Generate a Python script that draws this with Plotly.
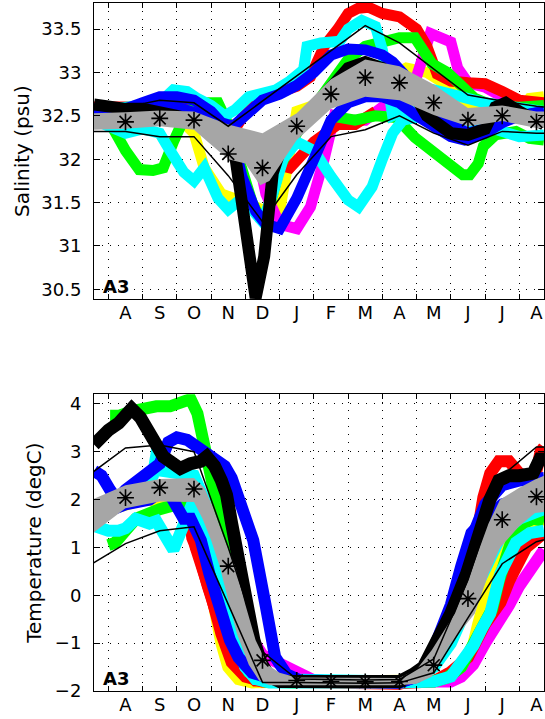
import plotly.graph_objects as go

# ---------------- common ----------------
month_labels = ['A', 'S', 'O', 'N', 'D', 'J', 'F', 'M', 'A', 'M', 'J', 'J', 'A']
month_mid = [k + 0.5 for k in range(13)]
month_start = list(range(13))
env_x = [-0.5] + month_mid + [13.5]          # Jul ... Sep (envelope lines)

# ---------------- Salinity panel ----------------
sal_mean = [32.43, 32.47, 32.45, 32.06, 31.90, 32.38, 32.75, 32.94, 32.88, 32.65, 32.45, 32.50, 32.43]
sal_upper = [32.57, 32.60, 32.68, 32.65, 32.38, 32.67, 32.96, 33.25, 33.54, 33.34, 33.04, 32.74, 32.67, 32.61, 32.57]
sal_lower = [32.32, 32.32, 32.26, 32.26, 31.81, 31.28, 31.82, 32.26, 32.34, 32.50, 32.30, 32.16, 32.32, 32.30, 32.30]

sal_band_hi_x = [-0.42, 0.5, 1.5, 2.5, 3.5, 4.5, 5.5, 6.5, 7.5, 8.5, 9.5, 10.5, 11.5, 12.5, 12.72]
sal_band_hi_y = [32.53, 32.54, 32.56, 32.55, 32.40, 32.30, 32.53, 32.92, 33.15, 33.07, 32.86, 32.59, 32.62, 32.55, 32.55]
sal_band_lo_x = [-0.42, 0.5, 1.5, 2.5, 2.9, 3.5, 4.0, 4.43, 4.7, 5.5, 6.5, 7.5, 8.5, 9.5, 10.5, 11.5, 12.5, 12.72]
sal_band_lo_y = [32.34, 32.35, 32.38, 32.34, 32.20, 32.00, 31.95, 31.70, 31.75, 32.22, 32.58, 32.72, 32.68, 32.51, 32.38, 32.44, 32.36, 32.36]

sal_yellow_x = [-0.42, 1.0, 2.0, 2.5, 2.8, 3.3, 4.0, 4.6, 5.0, 5.25, 5.5, 6.0, 6.5, 7.5, 8.2, 8.7, 9.3, 9.9, 10.3, 10.6, 11.0, 12.0, 12.3, 12.72]
sal_yellow_y = [32.55, 32.55, 32.50, 32.30, 31.90, 31.60, 31.50, 31.40, 31.40, 31.90, 32.55, 32.62, 32.75, 32.90, 32.95, 33.05, 33.00, 32.85, 32.65, 32.60, 32.55, 32.55, 32.70, 32.72]
sal_magenta_x = [-0.42, 1.0, 2.0, 2.7, 3.2, 3.7, 4.3, 4.6, 5.0, 5.5, 5.9, 6.3, 6.6, 7.0, 7.5, 8.0, 8.6, 9.0, 9.4, 10.0, 10.2, 10.5, 11.0, 11.5, 12.0, 12.72]
sal_magenta_y = [32.50, 32.55, 32.50, 32.45, 32.40, 32.28, 32.15, 31.60, 31.25, 31.20, 31.45, 32.00, 32.50, 32.45, 32.45, 32.60, 32.75, 32.95, 33.45, 33.35, 33.05, 32.88, 32.83, 32.72, 32.65, 32.60]
sal_red1_x = [-0.42, 0.5, 1.0, 1.7, 2.0, 2.5, 3.0, 3.5, 3.75, 4.1, 4.5, 4.9, 5.5, 5.9, 6.3, 6.7, 7.0, 7.3, 7.6, 8.0, 8.5, 9.0, 9.3, 9.6, 10.0, 10.5, 11.0, 11.5, 12.0, 12.72]
sal_red1_y = [32.60, 32.60, 32.60, 32.68, 32.65, 32.55, 32.45, 32.40, 32.38, 32.60, 32.72, 32.76, 32.84, 32.95, 33.30, 33.50, 33.68, 33.74, 33.75, 33.68, 33.64, 33.50, 33.30, 32.98, 32.90, 32.88, 32.87, 32.78, 32.68, 32.65]
sal_red2_x = [2.8, 3.2, 3.7, 4.4, 4.8, 5.3, 6.0, 6.7, 7.2, 7.8]
sal_red2_y = [32.50, 32.35, 32.22, 32.15, 31.95, 31.90, 32.20, 32.40, 32.40, 32.55]
sal_green1_x = [-0.42, 0.0, 0.5, 0.9, 1.3, 1.6, 1.9, 2.3, 2.7, 3.2, 3.5, 3.9, 4.2, 4.45, 4.7, 5.0, 5.5, 6.0, 6.5, 7.0, 7.5, 8.0, 8.5, 8.95, 9.45, 9.9, 10.3, 10.7, 11.2, 12.0, 12.72]
sal_green1_y = [32.55, 32.45, 32.10, 31.88, 31.87, 31.90, 32.20, 32.55, 32.65, 32.65, 32.40, 31.85, 31.50, 31.30, 31.45, 31.90, 32.30, 32.60, 32.90, 33.15, 33.30, 33.35, 33.40, 33.40, 33.10, 33.00, 32.84, 32.70, 32.62, 32.60, 32.62]
sal_green2_x = [6.5, 7.2, 7.8, 8.4, 8.95, 9.4, 9.75, 10.1, 10.35, 10.55, 10.8, 10.95, 11.3, 11.9, 12.3, 12.72]
sal_green2_y = [32.50, 32.45, 32.50, 32.48, 32.25, 32.10, 32.00, 31.88, 31.82, 31.82, 31.95, 32.15, 32.28, 32.32, 32.24, 32.22]
sal_cyan1_x = [-0.42, 0.5, 1.0, 1.5, 1.9, 2.3, 2.6, 3.0, 3.4, 3.7, 4.1, 4.9, 5.3, 5.7, 5.8, 6.2, 6.76, 7.0, 7.4, 7.8, 8.0, 8.15, 8.3, 8.6, 9.0, 9.5, 10.0, 10.4, 11.0, 11.5, 12.0, 12.72]
sal_cyan1_y = [32.55, 32.60, 32.60, 32.65, 32.80, 32.78, 32.70, 32.62, 32.50, 32.57, 32.72, 32.80, 32.90, 33.03, 33.30, 33.34, 33.36, 33.50, 33.60, 33.53, 33.26, 32.80, 32.50, 32.55, 32.70, 32.80, 32.75, 32.68, 32.65, 32.62, 32.58, 32.55]
sal_cyan2_x = [-0.42, 0.5, 1.0, 1.5, 1.8, 2.2, 2.5, 2.8, 3.2, 3.5, 3.9, 4.2, 4.5, 4.8, 5.1, 5.5, 6.0, 6.5, 7.0, 7.3, 7.7, 8.0, 8.3, 8.6, 9.2, 10.0, 10.8, 11.5, 12.0, 12.72]
sal_cyan2_y = [32.45, 32.30, 32.35, 32.30, 32.10, 31.85, 31.75, 31.90, 31.55, 31.42, 31.55, 31.40, 31.28, 31.60, 32.00, 32.20, 32.10, 31.80, 31.53, 31.45, 31.68, 32.00, 32.30, 32.45, 32.50, 32.50, 32.40, 32.30, 32.26, 32.28]
sal_blue1_x = [-0.42, 0.5, 1.0, 1.5, 2.0, 2.5, 3.0, 3.3, 3.65, 4.1, 4.5, 5.0, 5.5, 6.0, 6.5, 7.0, 7.5, 8.0, 8.3, 8.7, 9.0, 9.5, 10.0, 10.5, 11.0, 11.5, 12.0, 12.72]
sal_blue1_y = [32.58, 32.58, 32.65, 32.72, 32.72, 32.68, 32.55, 32.42, 32.38, 32.55, 32.68, 32.75, 32.85, 33.00, 33.20, 33.27, 33.26, 33.20, 33.12, 32.95, 32.75, 32.55, 32.40, 32.30, 32.35, 32.45, 32.50, 32.55]
sal_blue2_x = [-0.42, 1.0, 2.0, 2.8, 3.3, 3.6, 3.9, 4.3, 4.6, 5.0, 5.5, 6.0, 6.5, 7.0, 7.5, 8.0, 8.5, 9.0, 9.5, 10.0, 10.4, 11.0, 11.5, 12.0, 12.72]
sal_blue2_y = [32.55, 32.60, 32.60, 32.50, 32.40, 32.30, 31.80, 31.40, 31.25, 31.20, 31.55, 31.99, 32.45, 32.65, 32.72, 32.72, 32.65, 32.50, 32.38, 32.26, 32.22, 32.30, 32.42, 32.50, 32.55]
sal_black_x = [-0.42, 0.0, 0.5, 1.0, 1.5, 2.0, 2.5, 3.0, 3.4, 3.72, 4.0, 4.3, 4.55, 4.8, 5.1, 5.5, 6.0, 6.5, 7.0, 7.5, 8.0, 8.5, 9.0, 9.3, 9.7, 10.0, 10.5, 11.0, 11.3, 11.6, 12.0, 12.5, 12.72]
sal_black_y = [32.63, 32.60, 32.58, 32.58, 32.55, 32.50, 32.45, 32.35, 32.25, 31.99, 31.20, 30.40, 30.88, 31.84, 32.20, 32.35, 32.60, 32.85, 33.05, 33.12, 33.05, 32.90, 32.70, 32.50, 32.40, 32.30, 32.28, 32.35, 32.60, 32.65, 32.55, 32.45, 32.40]

# ---------------- Temperature panel ----------------
tmp_mean = [2.04, 2.25, 2.22, 0.61, -1.36, -1.78, -1.80, -1.81, -1.80, -1.46, -0.07, 1.58, 2.06]
tmp_upper = [2.55, 3.08, 3.14, 3.00, 1.00, -1.18, -1.75, -1.76, -1.77, -1.76, -1.33, 0.32, 2.50, 3.10, 3.10]
tmp_lower = [0.65, 1.08, 1.35, 1.43, -0.19, -1.82, -1.82, -1.83, -1.84, -1.83, -1.62, -0.47, 0.66, 1.12, 1.30]

tmp_band_hi_x = [-0.42, 0.5, 1.5, 2.5, 2.8, 3.05, 3.4, 3.7, 4.0, 4.3, 4.65, 5.0, 5.5, 8.5, 9.0, 9.44, 10.12, 10.5, 10.85, 11.1, 11.44, 12.0, 12.46, 12.72]
tmp_band_hi_y = [2.02, 2.30, 2.43, 2.45, 2.25, 1.85, 1.15, 0.60, -0.20, -0.94, -1.45, -1.62, -1.72, -1.73, -1.55, -1.15, -0.38, 0.30, 1.01, 1.50, 2.00, 2.25, 2.42, 2.50]
tmp_band_lo_x = [-0.42, 0.5, 1.5, 2.5, 2.75, 3.0, 3.25, 3.5, 3.75, 4.1, 4.4, 4.7, 5.5, 8.5, 9.0, 9.44, 10.0, 10.7, 11.1, 11.44, 12.0, 12.46, 12.72]
tmp_band_lo_y = [1.32, 1.82, 1.96, 1.95, 1.60, 1.15, 0.60, -0.10, -0.80, -1.45, -1.78, -1.88, -1.88, -1.88, -1.85, -1.70, -1.00, -0.38, 0.45, 1.00, 1.45, 1.72, 1.74]

tmp_yellow_x = [-0.42, 1.0, 2.0, 2.5, 2.7, 2.9, 3.07, 3.3, 3.5, 3.8, 4.2, 8.5, 9.5, 10.2, 10.6, 10.8, 11.0, 11.3, 11.6, 12.0, 12.72]
tmp_yellow_y = [1.70, 2.00, 1.95, 1.80, 1.20, 0.40, -0.24, -1.00, -1.50, -1.75, -1.82, -1.82, -1.78, -1.70, -1.20, -0.60, -0.10, 0.66, 1.10, 1.40, 1.60]
tmp_magenta_x = [-0.42, 1.0, 2.0, 2.6, 3.0, 3.5, 4.0, 4.5, 5.0, 5.4, 5.7, 6.0, 7.0, 8.5, 9.5, 10.0, 10.3, 10.65, 11.0, 11.4, 11.7, 12.0, 12.4, 12.72]
tmp_magenta_y = [1.70, 2.10, 2.20, 2.00, 1.30, 0.30, -0.70, -1.25, -1.45, -1.55, -1.72, -1.78, -1.80, -1.82, -1.82, -1.80, -1.70, -1.45, -1.00, -0.60, -0.20, 0.20, 0.60, 0.95]
tmp_redA_x = [-0.42, 0.5, 1.5, 2.0, 2.2, 2.4, 2.55, 2.7, 3.0, 3.3, 3.6, 4.0, 4.5, 8.5, 9.0, 9.5, 9.9, 10.3, 10.56, 10.75, 10.95, 11.15, 11.4, 11.7, 12.0, 12.3, 12.5, 12.62, 12.72]
tmp_redA_y = [1.68, 2.05, 2.20, 2.15, 1.85, 1.75, 1.00, 0.70, 0.00, -0.80, -1.40, -1.70, -1.80, -1.85, -1.75, -1.30, -0.80, -0.30, 0.35, 1.35, 2.05, 2.55, 2.80, 2.80, 2.55, 2.45, 2.60, 3.00, 3.10]
tmp_redB_x = [-0.42, 0.5, 1.5, 2.3, 2.45, 2.65, 2.9, 3.3, 3.8, 4.3, 8.5, 9.5, 10.0, 10.5, 11.0, 11.45, 11.7, 11.95, 12.2, 12.72]
tmp_redB_y = [1.60, 2.00, 2.15, 2.10, 1.20, 0.85, 0.20, -0.70, -1.40, -1.78, -1.84, -1.80, -1.60, -1.30, -0.60, -0.15, 0.30, 0.70, 1.00, 1.30]
tmp_green1_x = [0.05, 0.3, 0.7, 1.0, 1.4, 1.8, 2.1, 2.4, 2.6, 2.8, 3.0, 3.2, 3.5, 3.8, 4.1, 4.4, 4.8, 5.5, 8.5, 9.5, 9.9, 10.3, 10.6, 10.9, 11.2, 11.4, 11.6, 11.8, 12.1, 12.4, 12.72]
tmp_green1_y = [3.75, 3.75, 3.85, 3.90, 3.95, 3.95, 4.00, 4.10, 3.80, 3.20, 2.50, 1.80, 0.70, -0.40, -1.35, -1.70, -1.78, -1.80, -1.82, -1.80, -1.72, -1.50, -1.10, -0.70, -0.30, 0.30, 0.80, 1.20, 1.50, 1.60, 1.55]
tmp_green2_x = [0.0, 0.2, 0.5, 0.8, 1.5, 2.0, 2.5, 2.9, 3.3, 3.7, 4.1, 4.6, 5.5]
tmp_green2_y = [1.05, 1.10, 1.35, 1.60, 1.80, 1.90, 1.75, 1.00, 0.00, -1.00, -1.60, -1.80, -1.82]
tmp_cyanA_x = [-0.42, 0.0, 0.3, 0.5, 0.8, 1.2, 1.4, 1.7, 1.9, 2.1, 2.3, 2.5, 2.7, 3.0, 3.2, 3.5, 3.75, 4.0, 4.3, 4.7, 8.5, 9.5, 10.0, 10.4, 10.66, 10.9, 11.15, 11.44, 11.9, 12.3, 12.72]
tmp_cyanA_y = [1.45, 1.35, 1.35, 1.40, 1.60, 1.50, 1.55, 1.20, 0.95, 1.30, 1.70, 2.00, 1.70, 1.00, 0.45, -0.40, -1.00, -1.50, -1.75, -1.82, -1.82, -1.80, -1.70, -1.35, -1.05, -0.70, -0.38, 0.45, 1.10, 1.30, 1.35]
tmp_cyanB_x = [-0.42, 0.5, 1.0, 1.3, 1.45, 1.6, 2.0, 2.5, 2.8, 3.1, 3.4, 3.7, 4.0, 4.3, 8.5, 9.0, 9.5, 10.0, 10.5, 11.0, 11.5, 12.0, 12.72]
tmp_cyanB_y = [1.70, 2.00, 2.20, 2.50, 3.15, 2.60, 2.55, 2.50, 2.00, 1.00, 0.00, -0.90, -1.50, -1.75, -1.80, -1.75, -1.50, -1.00, -0.20, 0.60, 1.30, 1.60, 1.80]
tmp_blueA_x = [-0.42, -0.2, 0.05, 0.25, 0.5, 0.85, 1.2, 1.5, 1.75, 2.0, 2.3, 2.6, 3.0, 3.4, 3.6, 3.9, 4.23, 4.6, 4.87, 5.2, 5.6, 8.5, 9.0, 9.5, 9.98, 10.27, 10.5, 11.0, 11.5, 12.0, 12.72]
tmp_blueA_y = [2.60, 2.50, 2.20, 2.00, 2.20, 2.40, 2.60, 2.75, 3.20, 3.30, 3.25, 3.10, 2.90, 2.70, 2.45, 1.90, 1.15, -0.24, -1.29, -1.65, -1.78, -1.82, -1.70, -1.35, -0.52, 0.31, 1.00, 1.90, 2.30, 2.40, 2.45]
tmp_blueB_x = [-0.42, 0.5, 1.2, 1.6, 1.8, 2.0, 2.2, 2.4, 2.7, 2.95, 3.25, 3.55, 3.8, 4.2, 4.8, 5.5, 8.5, 9.0, 9.4, 9.7, 10.0, 10.3, 10.6, 11.0, 11.5, 12.0, 12.72]
tmp_blueB_y = [1.65, 1.90, 2.00, 2.20, 2.10, 1.85, 1.60, 1.60, 1.15, 0.45, -0.24, -0.94, -1.30, -1.62, -1.75, -1.80, -1.82, -1.70, -1.30, -0.80, -0.20, 0.60, 1.30, 1.60, 1.90, 2.00, 2.10]
tmp_black_x = [-0.42, -0.2, 0.0, 0.3, 0.5, 0.68, 0.93, 1.2, 1.4, 1.6, 1.9, 2.1, 2.4, 2.7, 2.87, 3.1, 3.3, 3.45, 3.6, 3.75, 3.87, 4.0, 4.25, 4.45, 4.7, 5.0, 8.5, 8.9, 9.2, 9.6, 10.0, 10.46, 10.85, 11.14, 11.4, 11.7, 12.0, 12.4, 12.6, 12.72]
tmp_black_y = [3.15, 3.35, 3.45, 3.60, 3.72, 3.90, 3.72, 3.45, 3.15, 2.90, 2.70, 2.65, 2.75, 2.80, 2.90, 2.70, 2.40, 2.10, 1.50, 0.95, 0.45, -0.24, -0.94, -1.40, -1.70, -1.80, -1.80, -1.65, -1.50, -0.94, -0.38, 0.45, 1.36, 2.00, 2.40, 2.50, 2.50, 2.55, 2.85, 2.85]

# ---------------- figure ----------------
COL = {'yellow': '#FFFF00', 'magenta': '#FF00FF', 'red': '#FF0000', 'green': '#00FF00',
       'cyan': '#00FFFF', 'blue': '#0000FF', 'black': '#000000'}
BAND_GRAY = '#A6A6A6'
FONT = 'DejaVu Sans'

fig = go.Figure()


def band(xs, ys, color, xa, ya, width):
    fig.add_trace(go.Scatter(x=xs, y=ys, mode='lines', xaxis=xa, yaxis=ya,
                             line=dict(color=color, width=width), hoverinfo='skip',
                             showlegend=False))


def panel(xa, ya, series, black, hi_x, hi_y, lo_x, lo_y, mean, upper, lower, width):
    for (xs, ys, c) in series:
        band(xs, ys, COL[c], xa, ya, width)
    band(black[0], black[1], COL['black'], xa, ya, width + 1)
    fig.add_trace(go.Scatter(x=hi_x + lo_x[::-1], y=hi_y + lo_y[::-1], mode='lines',
                             fill='toself', fillcolor=BAND_GRAY, line=dict(width=0),
                             xaxis=xa, yaxis=ya, showlegend=False, hoverinfo='skip'))
    for env in (upper, lower):
        fig.add_trace(go.Scatter(x=env_x, y=env, mode='lines', xaxis=xa, yaxis=ya,
                                 line=dict(color='black', width=1.5), showlegend=False))
    fig.add_trace(go.Scatter(x=month_mid, y=mean, mode='markers', xaxis=xa, yaxis=ya,
                             marker=dict(symbol='asterisk-open', size=14, color='black',
                                         line=dict(color='black', width=1.6)),
                             showlegend=False))


panel('x', 'y',
      [(sal_yellow_x, sal_yellow_y, 'yellow'), (sal_magenta_x, sal_magenta_y, 'magenta'),
       (sal_red2_x, sal_red2_y, 'red'), (sal_red1_x, sal_red1_y, 'red'),
       (sal_green1_x, sal_green1_y, 'green'), (sal_green2_x, sal_green2_y, 'green'),
       (sal_cyan1_x, sal_cyan1_y, 'cyan'), (sal_cyan2_x, sal_cyan2_y, 'cyan'),
       (sal_blue2_x, sal_blue2_y, 'blue'), (sal_blue1_x, sal_blue1_y, 'blue')],
      (sal_black_x, sal_black_y),
      sal_band_hi_x, sal_band_hi_y, sal_band_lo_x, sal_band_lo_y,
      sal_mean, sal_upper, sal_lower, 11)

panel('x2', 'y2',
      [(tmp_yellow_x, tmp_yellow_y, 'yellow'), (tmp_magenta_x, tmp_magenta_y, 'magenta'),
       (tmp_redB_x, tmp_redB_y, 'red'), (tmp_redA_x, tmp_redA_y, 'red'),
       (tmp_green2_x, tmp_green2_y, 'green'), (tmp_green1_x, tmp_green1_y, 'green'),
       (tmp_cyanB_x, tmp_cyanB_y, 'cyan'), (tmp_cyanA_x, tmp_cyanA_y, 'cyan'),
       (tmp_blueB_x, tmp_blueB_y, 'blue'), (tmp_blueA_x, tmp_blueA_y, 'blue')],
      (tmp_black_x, tmp_black_y),
      tmp_band_hi_x, tmp_band_hi_y, tmp_band_lo_x, tmp_band_lo_y,
      tmp_mean, tmp_upper, tmp_lower, 12)

GRID = dict(showgrid=True, gridcolor='black', griddash='1px,7px', gridwidth=1)
tickfont = dict(family=FONT, size=18, color='black')


def xaxis_cfg(anchor):
    return dict(anchor=anchor, domain=[0, 1], range=[-0.42, 12.72],
                tickmode='array', tickvals=month_mid, ticktext=month_labels,
                ticks='', showgrid=False, zeroline=False,
                showline=True, linecolor='black', linewidth=1, mirror='ticks',
                tickfont=tickfont, ticklabelstandoff=-3,
                minor=dict(tickmode='array', tickvals=month_start, ticks='inside',
                           ticklen=5, tickcolor='black', **GRID))


def yaxis_cfg(anchor, dom, rng, vals, texts, title, standoff):
    return dict(anchor=anchor, domain=dom, range=rng, tickmode='array',
                tickvals=vals, ticktext=texts, ticks='inside', ticklen=6,
                tickcolor='black', zeroline=False, showline=True, linecolor='black',
                linewidth=1, mirror='ticks', tickfont=tickfont, ticklabelstandoff=8,
                title=dict(text=title, font=dict(family=FONT, size=20, color='black'),
                           standoff=standoff),
                **GRID)


sal_ticks = [30.5, 31.0, 31.5, 32.0, 32.5, 33.0, 33.5]
sal_ticktext = ['30.5', '31', '31.5', '32', '32.5', '33', '33.5']
tmp_ticks = [-2, -1, 0, 1, 2, 3, 4]
tmp_ticktext = ['\u22122', '\u22121', '0', '1', '2', '3', '4']

fig.update_layout(
    width=545, height=719,
    margin=dict(l=94, r=1, t=3, b=28),
    paper_bgcolor='white', plot_bgcolor='white',
    xaxis=xaxis_cfg('y'),
    xaxis2=xaxis_cfg('y2'),
    yaxis=yaxis_cfg('x', [0.5693, 1.0], [30.385, 33.8], sal_ticks, sal_ticktext,
                    'Salinity (psu)', 6),
    yaxis2=yaxis_cfg('x2', [0.0, 0.4312], [-2.0, 4.2], tmp_ticks, tmp_ticktext,
                     'Temperature (degC)', 7),
    showlegend=False,
    annotations=[
        dict(text='A3', xref='x domain', yref='y domain', x=0.015, y=0.0,
             xanchor='left', yanchor='bottom', showarrow=False,
             font=dict(family=FONT, size=18, color='black', weight='bold')),
        dict(text='A3', xref='x2 domain', yref='y2 domain', x=0.015, y=0.0,
             xanchor='left', yanchor='bottom', showarrow=False,
             font=dict(family=FONT, size=18, color='black', weight='bold')),
    ],
)

fig.write_html('out.html', config={'displayModeBar': False},
               post_script="document.body.style.margin='0';"
                           "document.body.style.overflow='hidden';")
